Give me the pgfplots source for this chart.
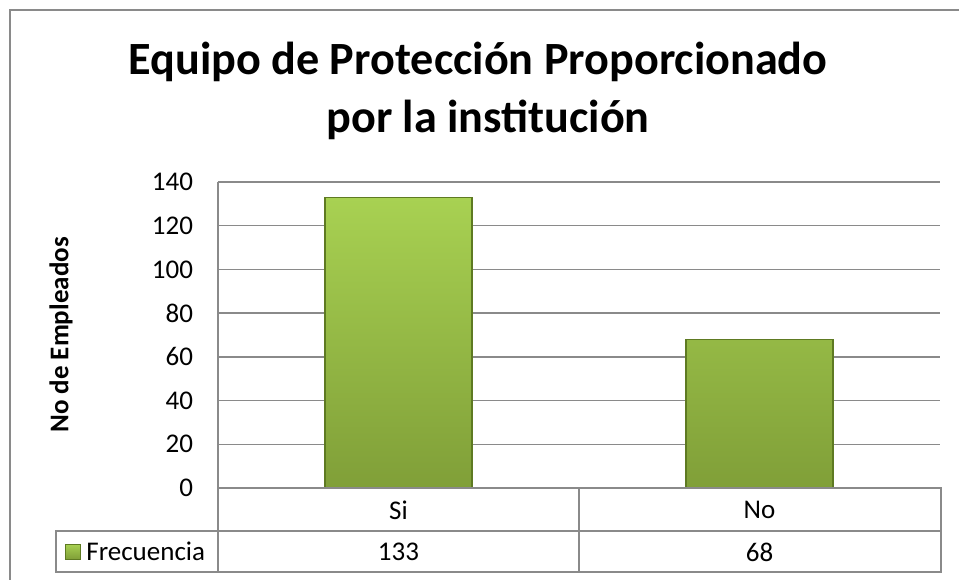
\documentclass[border=0pt]{standalone}
\usepackage{fontspec}
\setmainfont{Carlito}
\usepackage{pgfplots}
\pgfplotsset{compat=1.18}
\definecolor{gridgray}{HTML}{8A8A8A}
\definecolor{bartop}{HTML}{A8D152}
\definecolor{barbot}{HTML}{809F38}
\definecolor{baredge}{HTML}{5E7A22}

\begin{document}
\begin{tikzpicture}
% 1 px of the reference = 0.5bp; origin = lower-left of the plot area
\useasboundingbox (-109bp,-46bp) rectangle (370.5bp,244bp);
\begin{axis}[
    width=361bp, height=153bp,
    scale only axis,
    xmin=0, xmax=2,
    ymin=0, ymax=140,
    ytick={0,20,...,140},
    xtick=\empty,
    ymajorgrids,
    grid style={gridgray, line width=0.7bp},
    axis line style={draw=none},
    major tick length=0pt,
    tick label style={font=\fontsize{13.5bp}{16bp}\selectfont},
    /pgf/number format/assume math mode=true,
    yticklabel style={xshift=-9bp},
    ylabel={\fontsize{13.5bp}{16bp}\selectfont\bfseries No de Empleados},
    ylabel style={at={(axis description cs:-0.2175,0.5)}, anchor=center},
    clip=false,
]
\addplot[ybar, bar width=73.5bp, draw=baredge, line width=0.6bp,
         top color=bartop, bottom color=barbot]
  coordinates {(0.5,133) (1.5,68)};
% category and value rows of the data table
\node[font=\fontsize{13.5bp}{16bp}\selectfont] at (axis cs:0.5,-10.07) {Si};
\node[font=\fontsize{13.5bp}{16bp}\selectfont] at (axis cs:1.5,-10.07) {No};
\node[font=\fontsize{13.5bp}{16bp}\selectfont] at (axis cs:0.5,-29.3) {133};
\node[font=\fontsize{13.5bp}{16bp}\selectfont] at (axis cs:1.5,-29.3) {68};
\end{axis}
% table lines
\draw[gridgray, line width=0.8bp] (0,153bp) -- (0,-42bp);
\draw[gridgray, line width=0.8bp] (0,0) -- (361.5bp,0) -- (361.5bp,-42bp);
\draw[gridgray, line width=0.8bp] (-81bp,-21.5bp) -- (361.5bp,-21.5bp);
\draw[gridgray, line width=0.8bp] (-81bp,-21.5bp) rectangle (361.5bp,-42bp);
\draw[gridgray, line width=0.8bp] (180.5bp,0) -- (180.5bp,-42bp);
% legend key
\shade[top color=bartop, bottom color=barbot, draw=baredge, line width=0.5bp]
  (-76.25bp,-35.5bp) rectangle (-68.75bp,-28bp);
\node[anchor=west, inner sep=0pt, font=\fontsize{13.5bp}{16bp}\selectfont] at (-66bp,-31.75bp) {Frecuencia};
% outer frame
\draw[gridgray, line width=0.8bp] (-104bp,-46bp) -- (-104bp,239bp) -- (370.5bp,239bp);
% title
\node[anchor=base, font=\fontsize{23.1bp}{27bp}\selectfont\bfseries] at (130bp,206.5bp) {Equipo de Protección Proporcionado};
\node[anchor=base, font=\fontsize{23.1bp}{27bp}\selectfont\bfseries] at (135bp,177.5bp) {por la institución};
\end{tikzpicture}
\end{document}
